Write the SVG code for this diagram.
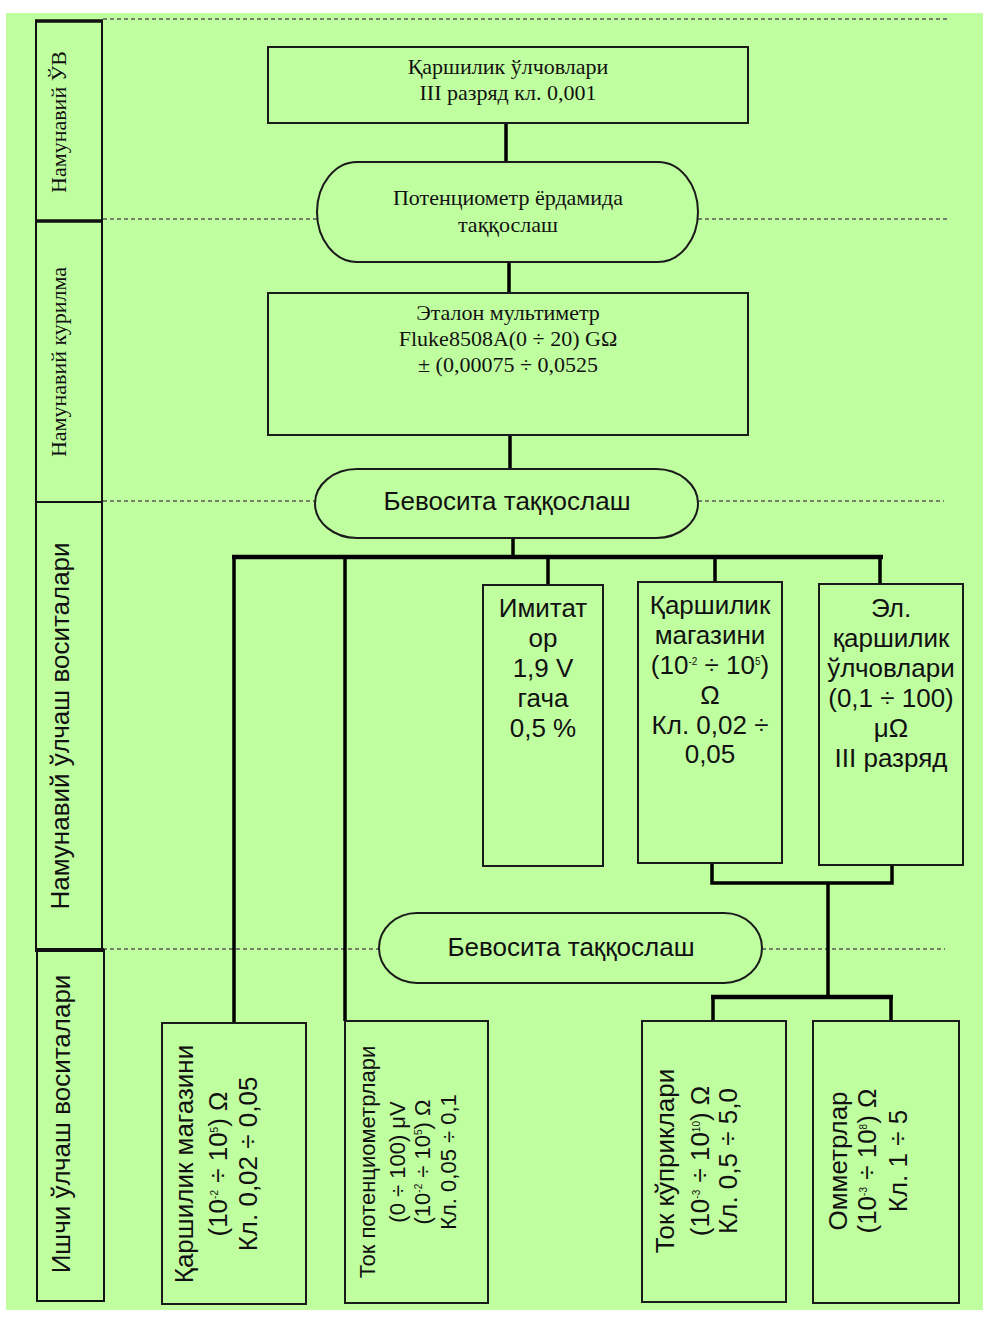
<svg xmlns="http://www.w3.org/2000/svg" width="983" height="1320" viewBox="0 0 983 1320">
<style>
.bg{fill:#c0ffa0}
.box{fill:#c0ffa0;stroke:#1a1a1a;stroke-width:2}
.col{fill:#c0ffa0;stroke:#111;stroke-width:2}
.conn{stroke:#000;stroke-width:3.5;fill:none}
.bus{stroke:#000;stroke-width:4.5;fill:none}
.dash{stroke:#555;stroke-width:1.6;stroke-dasharray:4 3;fill:none}
.serif{font-family:"Liberation Serif","Times New Roman",serif;font-size:22px;fill:#111;text-anchor:middle}
.sans{font-family:"Liberation Sans",Arial,sans-serif;font-size:26px;fill:#111;text-anchor:middle}
.sm{font-size:22px}
.sup{font-size:10px}
</style>
<rect class="bg" x="6" y="13" width="977" height="1297"/>

<g id="dashes">
<line class="dash" x1="103" y1="19" x2="948" y2="19"/>
<line class="dash" x1="103" y1="219" x2="317" y2="219"/>
<line class="dash" x1="698" y1="219" x2="948" y2="219"/>
<line class="dash" x1="103" y1="501" x2="315" y2="501"/>
<line class="dash" x1="698" y1="501" x2="944" y2="501"/>
<line class="dash" x1="103" y1="949" x2="379" y2="949"/>
<line class="dash" x1="762" y1="949" x2="945" y2="949"/>
</g>

<g id="lane-labels">
<g id="lane1"><rect class="col" x="36" y="21" width="66" height="200"/>
<text class="serif" transform="translate(66,122) rotate(-90)">Намунавий ЎВ</text></g>
<g id="lane2"><rect class="col" x="36" y="221" width="66" height="281"/>
<text class="serif" transform="translate(66,362) rotate(-90)">Намунавий курилма</text></g>
<g id="lane3"><rect class="col" x="36" y="502" width="66" height="448"/>
<text class="sans" transform="translate(69,726) rotate(-90)">Намунавий ўлчаш воситалари</text></g>
<g id="lane4"><rect class="col" x="37" y="950" width="67" height="351"/>
<text class="sans" transform="translate(70,1124) rotate(-90)">Ишчи ўлчаш воситалари</text></g>
<line x1="35" y1="21" x2="103" y2="21" stroke="#111" stroke-width="3.5"/>
<line x1="35" y1="221" x2="103" y2="221" stroke="#111" stroke-width="3.5"/>
<line x1="35" y1="950" x2="104" y2="950" stroke="#111" stroke-width="4"/>
</g>

<g id="connectors">
<line class="conn" x1="506" y1="123" x2="506" y2="162"/>
<line class="conn" x1="509" y1="262" x2="509" y2="292"/>
<line class="conn" x1="510" y1="435" x2="510" y2="469"/>
<line class="conn" x1="513" y1="538" x2="513" y2="557"/>
<line class="bus" x1="232" y1="557" x2="883" y2="557"/>
<line class="conn" x1="234" y1="557" x2="234" y2="1023"/>
<line class="conn" x1="345" y1="557" x2="345" y2="1021"/>
<line class="conn" x1="548" y1="557" x2="548" y2="585"/>
<line class="conn" x1="715" y1="557" x2="715" y2="582"/>
<line class="conn" x1="880" y1="557" x2="880" y2="584"/>
<path class="conn" d="M712,863 V883 H892 V865"/>
<line class="conn" x1="828" y1="883" x2="828" y2="997"/>
<line class="bus" x1="711" y1="997" x2="893" y2="997"/>
<line class="conn" x1="713" y1="997" x2="713" y2="1021"/>
<line class="conn" x1="891" y1="997" x2="891" y2="1021"/>
</g>

<g id="n-top">
<rect class="box" x="268" y="47" width="480" height="76" stroke-width="2.5"/>
<text class="serif" x="508" y="74">Қаршилик ўлчовлари</text>
<text class="serif" x="508" y="100">III разряд кл. 0,001</text>
</g>

<g id="n-pot">
<rect class="box" x="317" y="162" width="381" height="100" rx="40" ry="50"/>
<text class="serif" x="508" y="205">Потенциометр ёрдамида</text>
<text class="serif" x="508" y="232">таққослаш</text>
</g>

<g id="n-fluke">
<rect class="box" x="268" y="293" width="480" height="142"/>
<text class="serif" x="508" y="320">Эталон мультиметр</text>
<text class="serif" x="508" y="346">Fluke8508A(0 ÷ 20) GΩ</text>
<text class="serif" x="508" y="372">± (0,00075 ÷ 0,0525</text>
</g>

<g id="n-direct1">
<rect class="box" x="315" y="469" width="383" height="69" rx="42" ry="34.5"/>
<text class="sans" x="507" y="510">Бевосита таққослаш</text>
</g>

<g id="n-imit">
<rect class="box" x="483" y="585" width="120" height="281"/>
<text class="sans" x="543" y="617">Имитат</text>
<text class="sans" x="543" y="647">ор</text>
<text class="sans" x="543" y="677">1,9 V</text>
<text class="sans" x="543" y="707">гача</text>
<text class="sans" x="543" y="737">0,5 %</text>
</g>

<g id="n-mag">
<rect class="box" x="638" y="582" width="144" height="281"/>
<text class="sans" x="710" y="614">Қаршилик</text>
<text class="sans" x="710" y="644">магазини</text>
<text class="sans" x="710" y="674">(10<tspan class="sup" dy="-9">-2</tspan><tspan dy="9"> ÷ 10</tspan><tspan class="sup" dy="-9">5</tspan><tspan dy="9">)</tspan></text>
<text class="sans" x="710" y="704">Ω</text>
<text class="sans" x="710" y="734">Кл. 0,02 ÷</text>
<text class="sans" x="710" y="763">0,05</text>
</g>

<g id="n-el">
<rect class="box" x="819" y="584" width="144" height="281"/>
<text class="sans" x="891" y="617">Эл.</text>
<text class="sans" x="891" y="647">қаршилик</text>
<text class="sans" x="891" y="677">ўлчовлари</text>
<text class="sans" x="891" y="707">(0,1 ÷ 100)</text>
<text class="sans" x="891" y="737">μΩ</text>
<text class="sans" x="891" y="767">III разряд</text>
</g>

<g id="n-direct2">
<rect class="box" x="379" y="913" width="383" height="70" rx="38" ry="35"/>
<text class="sans" x="571" y="956">Бевосита таққослаш</text>
</g>

<g id="n-w1">
<rect class="box" x="162" y="1023" width="144" height="281"/>
<g transform="translate(0,1164) rotate(-90)">
<text class="sans" x="0" y="193">Қаршилик магазини</text>
<text class="sans" x="0" y="227">(10<tspan class="sup" dy="-9">-2</tspan><tspan dy="9"> ÷ 10</tspan><tspan class="sup" dy="-9">5</tspan><tspan dy="9">) Ω</tspan></text>
<text class="sans" x="0" y="257">Кл. 0,02 ÷ 0,05</text>
</g>
</g>

<g id="n-w2">
<rect class="box" x="345" y="1021" width="143" height="282"/>
<g transform="translate(0,1162) rotate(-90)">
<text class="sans sm" x="0" y="375">Ток потенциометрлари</text>
<text class="sans sm" x="0" y="405">(0 ÷ 100) μV</text>
<text class="sans sm" x="0" y="430">(10<tspan class="sup" dy="-8">-2</tspan><tspan dy="8"> ÷ 10</tspan><tspan class="sup" dy="-8">5</tspan><tspan dy="8">) Ω</tspan></text>
<text class="sans sm" x="0" y="456">Кл. 0,05 ÷ 0,1</text>
</g>
</g>

<g id="n-w3">
<rect class="box" x="642" y="1021" width="144" height="281"/>
<g transform="translate(0,1161) rotate(-90)">
<text class="sans" x="0" y="674">Ток кўприклари</text>
<text class="sans" x="0" y="709">(10<tspan class="sup" dy="-9">-3</tspan><tspan dy="9"> ÷ 10</tspan><tspan class="sup" dy="-9">10</tspan><tspan dy="9">) Ω</tspan></text>
<text class="sans" x="0" y="737">Кл. 0,5 ÷ 5,0</text>
</g>
</g>

<g id="n-w4">
<rect class="box" x="813" y="1021" width="146" height="282"/>
<g transform="translate(0,1161) rotate(-90)">
<text class="sans" x="0" y="847">Омметрлар</text>
<text class="sans" x="0" y="876">(10<tspan class="sup" dy="-9">-3</tspan><tspan dy="9"> ÷ 10</tspan><tspan class="sup" dy="-9">8</tspan><tspan dy="9">) Ω</tspan></text>
<text class="sans" x="0" y="907">Кл. 1 ÷ 5</text>
</g>
</g>
</svg>
